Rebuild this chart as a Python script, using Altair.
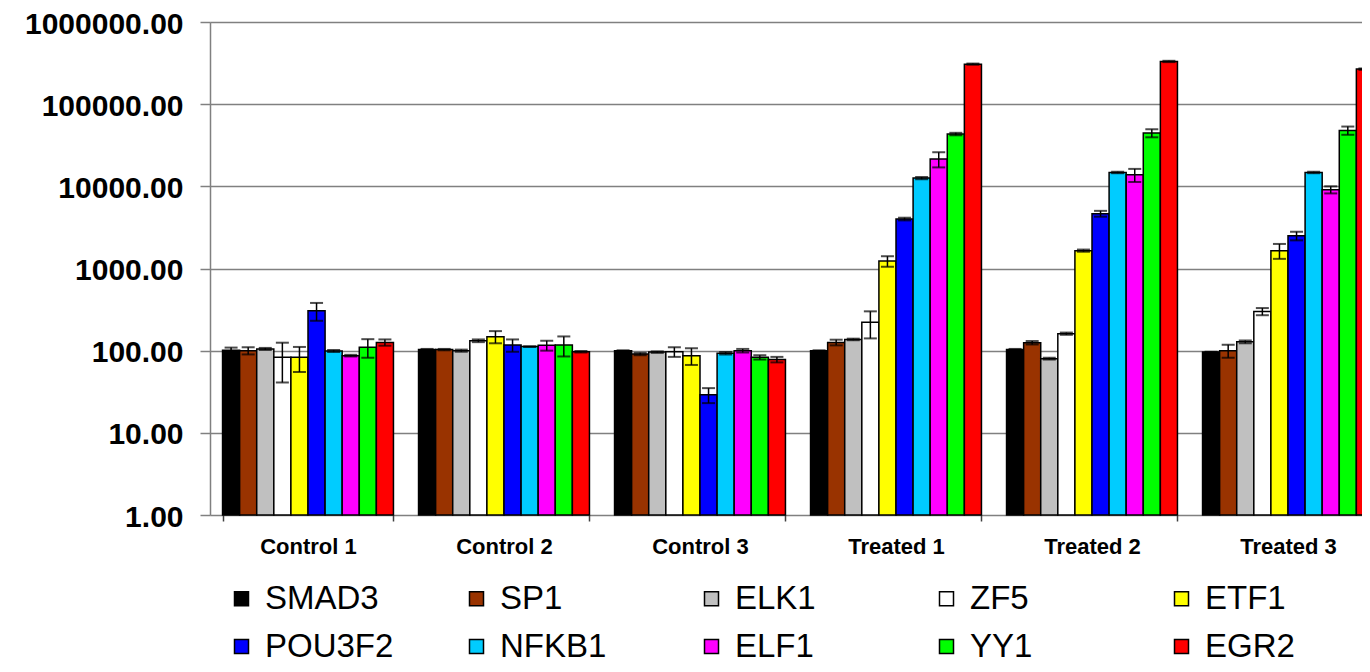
import altair as alt
import pandas as pd

groups = ["Control 1", "Control 2", "Control 3", "Treated 1", "Treated 2", "Treated 3"]
genes = ["SMAD3", "SP1", "ELK1", "ZF5", "ETF1", "POU3F2", "NFKB1", "ELF1", "YY1", "EGR2"]
colors = ["#000000", "#993300", "#C0C0C0", "#FFFFFF", "#FFFF00",
          "#0000FF", "#00CCFF", "#FF00FF", "#00FF00", "#FF0000"]
y_ticks = [1, 10, 100, 1000, 10000, 100000, 1000000]

control1 = [101, 100, 105, 83, 83, 306, 99, 87, 110, 126]
control1_err = [8, 10, 3, 42, 28, 75, 3, 2, 28, 11]
control2 = [103, 103, 100, 132, 148, 117, 112, 116, 117, 97]
control2_err = [2, 2, 3, 5, 25, 20, 1, 16, 32, 2]
control3 = [100, 91, 96, 97, 87, 29, 93, 100, 83, 78]
control3_err = [1, 3, 2, 13, 20, 6, 3, 5, 5, 6]
treated1 = [100, 126, 137, 221, 1230, 4000, 12600, 21500, 43300, 307000]
treated1_err = [1, 10, 3, 80, 180, 150, 400, 4500, 1500, 5000]
treated2 = [103, 125, 80, 161, 1650, 4650, 14750, 13800, 44500, 331000]
treated2_err = [2, 6, 2, 5, 50, 380, 300, 2500, 5000, 6000]
treated3 = [96, 100, 128, 300, 1650, 2500, 14750, 9100, 47900, 267000]
treated3_err = [1, 18, 5, 30, 340, 300, 300, 900, 5500, 5000]

means = [control1, control2, control3, treated1, treated2, treated3]
errs = [control1_err, control2_err, control3_err, treated1_err, treated2_err, treated3_err]

rows = []
for g, vals, es in zip(groups, means, errs):
    for gene, v, e in zip(genes, vals, es):
        rows.append({"group": g, "gene": gene, "value": v, "lo": v - e, "hi": v + e})
df = pd.DataFrame(rows)

yscale = alt.Scale(type="log", domain=[1, 1000000], nice=False)
yaxis = alt.Axis(
    title=None, values=y_ticks, format=".2f", labelFont="Liberation Sans",
    labelFontWeight="bold", labelFontSize=30, labelColor="black",
    labelPadding=17, labelOffset=2, tickSize=10, tickColor="#808080",
    tickWidth=1.5, domainColor="#808080", domainWidth=1.5,
    grid=True, gridColor="#808080", gridWidth=1.5,
)

# the category axis runs past the right edge of the picture, as in the original
x_enc = alt.X(
    "group:N", sort=groups,
    scale=alt.Scale(paddingInner=0.128, paddingOuter=0.064, range=[0, 1176]),
    axis=alt.Axis(
        title=None, labelAngle=0, labelFont="Liberation Sans", labelFontWeight="bold",
        labelFontSize=22, labelColor="black", tickBand="extent", tickSize=6,
        tickColor="#404040", tickWidth=1.5, domain=False,
        labelPadding=15, grid=False,
    ),
)
xo_enc = alt.XOffset("gene:N", sort=genes, scale=alt.Scale(paddingInner=0, paddingOuter=0))

base = alt.Chart(df)

bars = base.mark_bar(stroke="black", strokeWidth=1.5).encode(
    x=x_enc,
    xOffset=xo_enc,
    y=alt.Y("value:Q", scale=yscale, axis=yaxis),
    y2=alt.datum(1),
    color=alt.Color(
        "gene:N", sort=genes, scale=alt.Scale(domain=genes, range=colors),
        legend=alt.Legend(
            title=None, orient="none", legendX=15, legendY=560, direction="horizontal",
            columns=5, gridAlign="all", columnPadding=66, rowPadding=14,
            symbolType="square", symbolSize=196, symbolStrokeColor="black",
            symbolStrokeWidth=1.5, symbolOpacity=1, labelFont="Liberation Sans",
            labelFontSize=33, labelColor="black", labelOffset=7, padding=0,
            labelLimit=0,
        ),
    ),
)

rules = base.mark_rule(color="black", strokeWidth=1.5).encode(
    x=x_enc, xOffset=xo_enc,
    y=alt.Y("lo:Q", scale=yscale, axis=yaxis),
    y2="hi:Q",
)
caps_lo = base.mark_tick(color="black", thickness=2, size=13).encode(
    x=x_enc, xOffset=xo_enc, y=alt.Y("lo:Q", scale=yscale, axis=yaxis),
)
caps_hi = base.mark_tick(color="black", thickness=2, size=13).encode(
    x=x_enc, xOffset=xo_enc, y=alt.Y("hi:Q", scale=yscale, axis=yaxis),
)

chart = (
    alt.layer(bars, rules, caps_lo, caps_hi)
    .properties(
        width=1152, height=493,
        autosize=alt.AutoSizeParams(type="none"),
        padding={"left": 202, "top": 14, "right": 0, "bottom": 149},
    )
    .configure_view(stroke=None)
    .configure(background="white")
)

chart.save("out.html", embed_options={"renderer": "svg", "actions": False})
